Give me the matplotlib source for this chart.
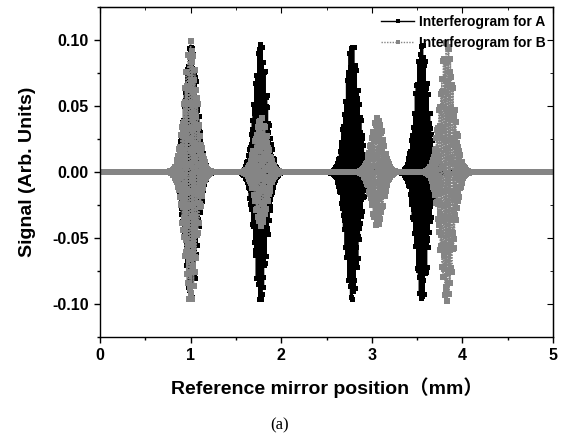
import numpy as np
import matplotlib
matplotlib.use("Agg")
import matplotlib.pyplot as plt
from matplotlib.ticker import MultipleLocator

# Envelope parameters (position in mm, peak signal, width in mm)
a_centers = [1.00, 1.77, 2.78, 3.55]
a_peaks = [0.098, 0.099, 0.098, 0.098]
a_widths = [0.070, 0.068, 0.072, 0.070]

b_centers = [1.00, 1.78, 3.06, 3.83]
b_peaks = [0.099, 0.041, 0.041, 0.099]
b_widths = [0.068, 0.065, 0.065, 0.072]

x_ticks = [0, 1, 2, 3, 4, 5]
y_ticks = [-0.10, -0.05, 0.00, 0.05, 0.10]

x = np.arange(0.0, 5.0, 0.0021)
fringe = 0.0097  # apparent fringe period after sampling


def interferogram(centers, peaks, widths, phase):
    s = np.zeros_like(x)
    for c, p, w in zip(centers, peaks, widths):
        s += p * np.exp(-0.5 * ((x - c) / w) ** 2) * np.cos(2 * np.pi * (x - c) / fringe + phase)
    return s


sig_a = interferogram(a_centers, a_peaks, a_widths, 0.0)
sig_b = interferogram(b_centers, b_peaks, b_widths, 0.3)

fig = plt.figure(figsize=(5.62, 4.36), dpi=100)
ax = fig.add_axes([0.178, 0.227, 0.806, 0.757])

ax.plot(x, sig_a, color="black", lw=1.0, marker="s", ms=3.6, mew=0,
        label="Interferogram for A")
ax.plot(x, sig_b, color="#858585", lw=1.0, ls=(0, (1, 1)), marker="s", ms=4.2, mew=0,
        label="Interferogram for B")

ax.set_xlim(0, 5)
ax.set_ylim(-0.125, 0.125)
ax.set_xticks(x_ticks)
ax.set_yticks(y_ticks)
ax.set_yticklabels([f"{v:.2f}" for v in y_ticks])
ax.xaxis.set_minor_locator(MultipleLocator(0.5))
ax.yaxis.set_minor_locator(MultipleLocator(0.025))
ax.tick_params(which="both", direction="out", width=1.0, top=False, right=False)
ax.tick_params(which="major", length=4, pad=4)
ax.tick_params(which="minor", length=2.5)
for lab in ax.get_xticklabels() + ax.get_yticklabels():
    lab.set_fontweight("bold")
    lab.set_fontfamily("Liberation Sans")
    lab.set_fontsize(11.5)

# inward ticks on top/right
ax2 = ax.secondary_xaxis("top")
ax2.set_xticks(x_ticks)
ax2.xaxis.set_minor_locator(MultipleLocator(0.5))
ax2.tick_params(which="both", direction="in", labeltop=False)
ax2.tick_params(which="major", length=4)
ax2.tick_params(which="minor", length=2.5)
ax3 = ax.secondary_yaxis("right")
ax3.set_yticks(y_ticks)
ax3.yaxis.set_minor_locator(MultipleLocator(0.025))
ax3.tick_params(which="both", direction="in", labelright=False)
ax3.tick_params(which="major", length=4)
ax3.tick_params(which="minor", length=2.5)

for sp in ax.spines.values():
    sp.set_linewidth(1.0)

ax.set_xlabel("Reference mirror position（mm）", fontsize=14, fontweight="bold",
              family=["Liberation Sans", "Noto Sans CJK SC"], labelpad=10)
ax.set_ylabel("Signal (Arb. Units)", fontsize=14, fontweight="bold",
              family="Liberation Sans", labelpad=12)

leg = ax.legend(loc="upper right", frameon=False, borderaxespad=0.15, handlelength=2.4,
                handletextpad=0.3, labelspacing=0.55, borderpad=0.4,
                prop={"family": "Liberation Sans", "weight": "bold", "size": 10})
for h in leg.legend_handles:
    h.set_markersize(3.5)

fig.text(0.498, 0.015, "(a)", fontsize=12, family="Liberation Serif", ha="center")

fig.savefig("out.png", dpi=100)
